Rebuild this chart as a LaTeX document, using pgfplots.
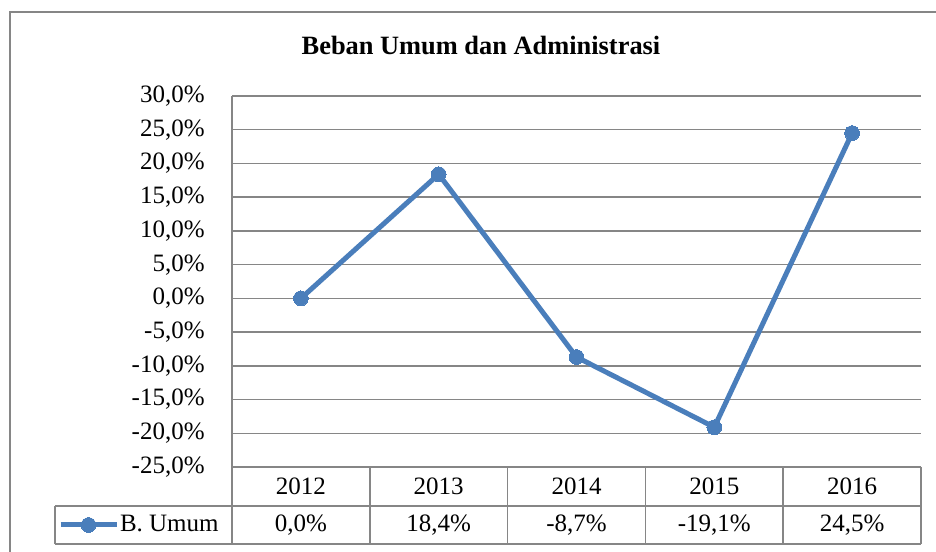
\documentclass[border=0pt]{standalone}
\usepackage{fontspec}
\setmainfont{Liberation Serif}
\usepackage{pgfplots}
\pgfplotsset{compat=1.18}
\definecolor{serie}{RGB}{74,126,187}
\definecolor{gridc}{RGB}{134,134,134}
\begin{document}
\begin{tikzpicture}[font=\fontsize{12.5}{15}\selectfont, x=1pt, y=1pt]
\useasboundingbox (0,0) rectangle (468,275.5);
\draw[gridc, line width=0.75pt] (5,-2) -- (5,269.5) -- (470,269.5);
\node[font=\fontsize{13.2}{15}\selectfont\bfseries, anchor=base, inner sep=0pt] at (240.5,248) {Beban Umum dan Administrasi};
\begin{axis}[
  at={(116pt,42pt)}, anchor=south west,
  scale only axis, width=344.5pt, height=185.5pt,
  xmin=-0.5, xmax=4.5, ymin=-25, ymax=30,
  axis line style={draw=none},
  xtick=\empty,
  ytick={-25,-20,-15,-10,-5,0,5,10,15,20,25,30},
  yticklabels={{-25,0\%},{-20,0\%},{-15,0\%},{-10,0\%},{-5,0\%},{0,0\%},{5,0\%},{10,0\%},{15,0\%},{20,0\%},{25,0\%},{30,0\%}},
  ymajorgrids,
  major grid style={gridc, line width=0.75pt},
  major tick length=0pt,
  yticklabel style={anchor=east, inner sep=0pt, xshift=-13.5pt, font=\fontsize{12.5}{15}\selectfont},
  clip=false,
  legend image code/.code={\draw[mark repeat=2,mark phase=2,#1] plot coordinates {(0pt,0pt) (14pt,0pt) (28pt,0pt)};},
  legend style={at={(rel axis cs:-0.2525,-0.1563)}, anchor=west, draw=none, fill=none, inner sep=0pt, outer sep=0pt,
    font=\fontsize{12.5}{15}\selectfont, nodes={inner sep=0.5pt}},
  legend cell align=left,
]
\addplot[serie, line width=2.5pt, mark=*, mark size=3.7pt, mark options={fill=serie, draw=serie, line width=0pt}]
  coordinates {(0,0) (1,18.4) (2,-8.7) (3,-19.1) (4,24.5)};
\addlegendentry{B. Umum}
\end{axis}
% data table
\begin{scope}[gridc, line width=0.75pt]
\draw (116,227.5) -- (116,3.5);
\draw (27.5,22.5) -- (460.5,22.5);
\draw (27.5,3.5) -- (460.5,3.5);
\draw (27.5,3.5) -- (27.5,22.5);
\foreach \xx in {184.9,253.8,322.7,391.6,460.5} {\draw (\xx,42) -- (\xx,3.5);}
\end{scope}
\foreach \cx/\yr/\val in {150.45/2012/{0,0\%},219.35/2013/{18,4\%},288.25/2014/{-8,7\%},357.15/2015/{-19,1\%},426.05/2016/{24,5\%}} {
  \node at (\cx,32.25) {\yr};
  \node at (\cx,13) {\val};
}
\end{tikzpicture}
\end{document}
